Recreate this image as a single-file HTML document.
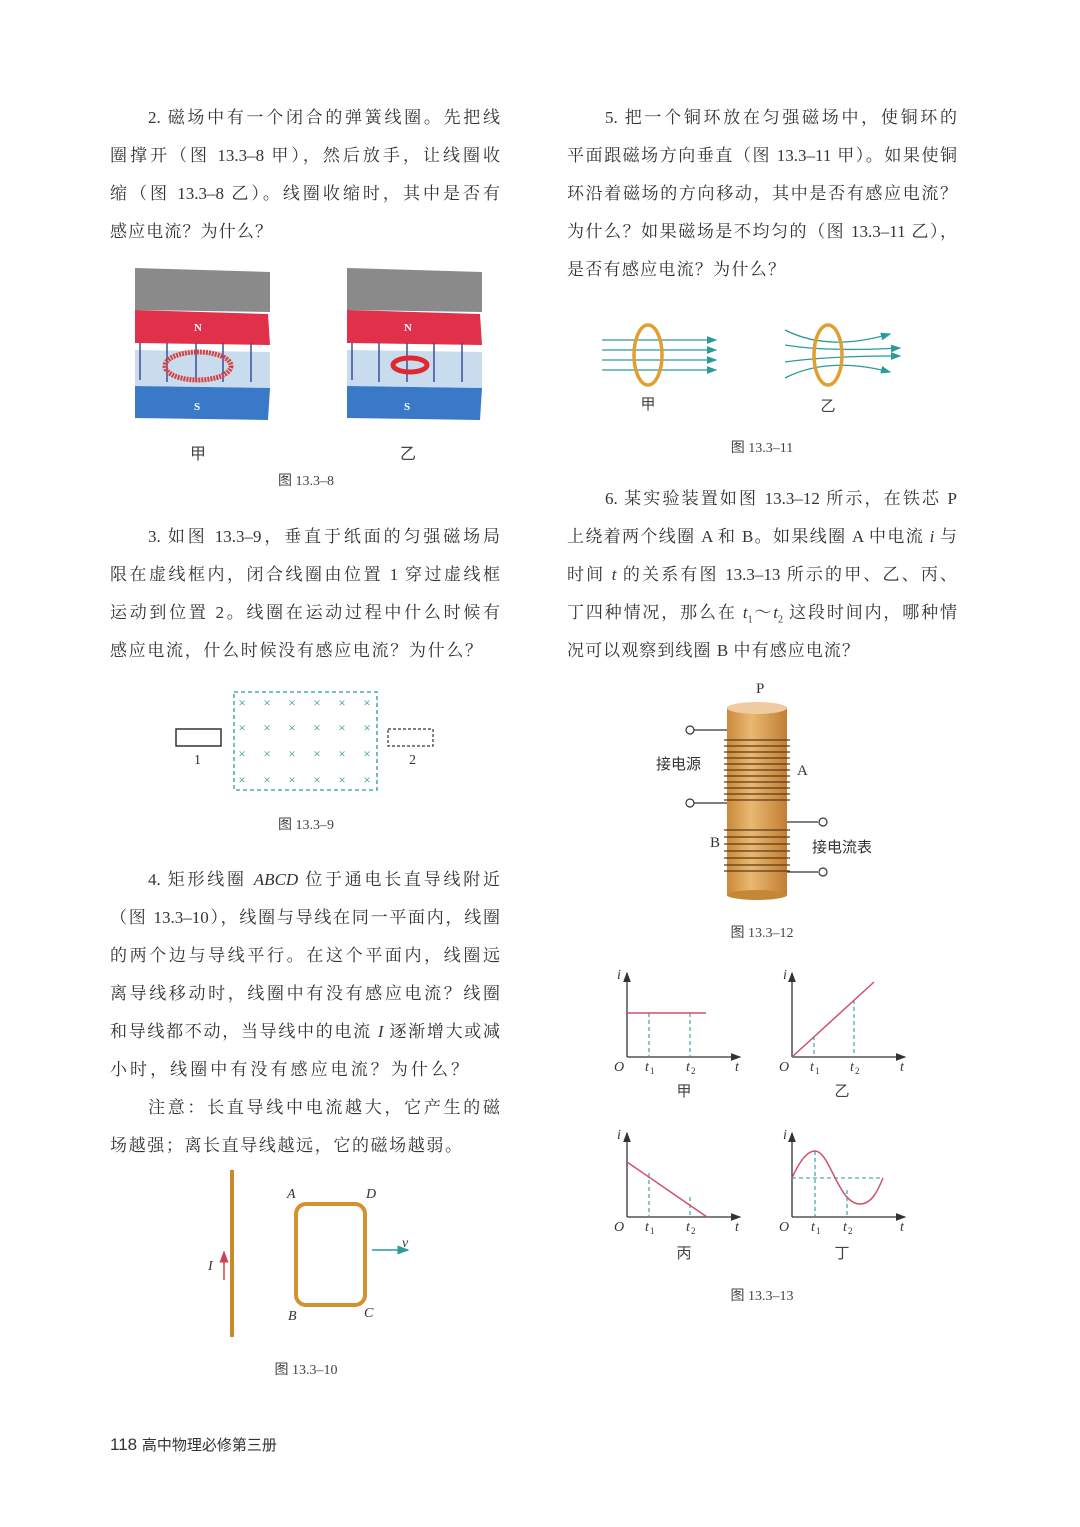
<!DOCTYPE html>
<html><head><meta charset="utf-8"><style>
body{margin:0;background:#fff;}
#p{position:relative;width:1080px;height:1527px;overflow:hidden;font-family:"Liberation Serif","Noto Serif CJK SC",serif;color:#333;}
.l{position:absolute;font-size:17px;height:24px;line-height:24px;text-align:justify;text-align-last:justify;white-space:nowrap;}
.t{position:absolute;font-size:15px;line-height:18px;white-space:nowrap;}
.c{position:absolute;font-size:14px;font-family:"Liberation Serif","Noto Sans CJK SC",serif;color:#444;transform:translateX(-50%);white-space:nowrap;}
svg{position:absolute;left:0;top:0;}
</style></head><body><div id="p">
<div class="l" style="left:148px;top:106px;width:352px">2. 磁场中有一个闭合的弹簧线圈。先把线</div>
<div class="l" style="left:110px;top:144px;width:390px">圈撑开（图 13.3–8 甲），然后放手，让线圈收</div>
<div class="l" style="left:110px;top:182px;width:390px">缩（图 13.3–8 乙）。线圈收缩时，其中是否有</div>
<div class="l" style="left:110px;top:220px;width:162px">感应电流？为什么？</div>

<div class="l" style="left:148px;top:525px;width:352px">3. 如图 13.3–9，垂直于纸面的匀强磁场局</div>
<div class="l" style="left:110px;top:563px;width:390px">限在虚线框内，闭合线圈由位置 1 穿过虚线框</div>
<div class="l" style="left:110px;top:601px;width:390px">运动到位置 2。线圈在运动过程中什么时候有</div>
<div class="l" style="left:110px;top:639px;width:372px">感应电流，什么时候没有感应电流？为什么？</div>

<div class="l" style="left:148px;top:868px;width:352px">4. 矩形线圈 <i>ABCD</i> 位于通电长直导线附近</div>
<div class="l" style="left:110px;top:906px;width:390px">（图 13.3–10），线圈与导线在同一平面内，线圈</div>
<div class="l" style="left:110px;top:944px;width:390px">的两个边与导线平行。在这个平面内，线圈远</div>
<div class="l" style="left:110px;top:982px;width:390px">离导线移动时，线圈中有没有感应电流？线圈</div>
<div class="l" style="left:110px;top:1020px;width:390px">和导线都不动，当导线中的电流 <i>I</i> 逐渐增大或减</div>
<div class="l" style="left:110px;top:1058px;width:358px">小时，线圈中有没有感应电流？为什么？</div>
<div class="l" style="left:148px;top:1096px;width:352px">注意：长直导线中电流越大，它产生的磁</div>
<div class="l" style="left:110px;top:1134px;width:352px">场越强；离长直导线越远，它的磁场越弱。</div>

<div class="l" style="left:605px;top:106px;width:352px">5. 把一个铜环放在匀强磁场中，使铜环的</div>
<div class="l" style="left:567px;top:144px;width:390px">平面跟磁场方向垂直（图 13.3–11 甲）。如果使铜</div>
<div class="l" style="left:567px;top:182px;width:390px">环沿着磁场的方向移动，其中是否有感应电流？</div>
<div class="l" style="left:567px;top:220px;width:390px">为什么？如果磁场是不均匀的（图 13.3–11 乙），</div>
<div class="l" style="left:567px;top:258px;width:218px">是否有感应电流？为什么？</div>

<div class="l" style="left:605px;top:487px;width:352px">6. 某实验装置如图 13.3–12 所示，在铁芯 P</div>
<div class="l" style="left:567px;top:525px;width:390px">上绕着两个线圈 A 和 B。如果线圈 A 中电流 <i>i</i> 与</div>
<div class="l" style="left:567px;top:563px;width:390px">时间 <i>t</i> 的关系有图 13.3–13 所示的甲、乙、丙、</div>
<div class="l" style="left:567px;top:601px;width:390px">丁四种情况，那么在 <i>t</i><sub style="font-size:10px">1</sub>～<i>t</i><sub style="font-size:10px">2</sub> 这段时间内，哪种情</div>
<div class="l" style="left:567px;top:639px;width:292px">况可以观察到线圈 B 中有感应电流？</div>

<div class="c" style="left:198px;top:440px;font-size:16px">甲</div>
<div class="c" style="left:408px;top:440px;font-size:16px">乙</div>
<div class="c" style="left:306px;top:470px">图 13.3–8</div>
<div class="c" style="left:306px;top:814px">图 13.3–9</div>
<div class="c" style="left:306px;top:1359px">图 13.3–10</div>
<div class="c" style="left:762px;top:437px">图 13.3–11</div>
<div class="c" style="left:762px;top:922px">图 13.3–12</div>
<div class="c" style="left:762px;top:1285px">图 13.3–13</div>
<div class="c" style="left:648px;top:393px;font-size:15px">甲</div>
<div class="c" style="left:828px;top:395px;font-size:15px">乙</div>
<div class="c" style="left:684px;top:1080px;font-size:15px">甲</div>
<div class="c" style="left:842px;top:1080px;font-size:15px">乙</div>
<div class="c" style="left:684px;top:1242px;font-size:15px">丙</div>
<div class="c" style="left:842px;top:1242px;font-size:15px">丁</div>
<div class="t" style="left:756px;top:680px">P</div>
<div class="t" style="left:656px;top:755px;font-family:'Noto Sans CJK SC',sans-serif">接电源</div>
<div class="t" style="left:797px;top:762px">A</div>
<div class="t" style="left:710px;top:834px">B</div>
<div class="t" style="left:812px;top:838px;font-family:'Noto Sans CJK SC',sans-serif">接电流表</div>
<div class="t" style="left:110px;top:1436px;font-size:17px;font-family:'Liberation Sans','Noto Sans CJK SC',sans-serif">118 <span style="font-size:15px">高中物理必修第三册</span></div>

<svg width="1080" height="1527" font-family="Liberation Serif" font-style="italic" font-size="14" fill="#333">
<defs>
<marker id="a" markerWidth="8" markerHeight="8" refX="7" refY="4" orient="auto"><path d="M0,1 L8,4 L0,7 Z" fill="#333"/></marker>
<marker id="b" markerWidth="8" markerHeight="8" refX="7" refY="4" orient="auto"><path d="M0,1 L8,4 L0,7 Z" fill="#2a9a9a"/></marker>
<marker id="r" markerWidth="8" markerHeight="8" refX="7" refY="4" orient="auto"><path d="M0,1 L8,4 L0,7 Z" fill="#d04050"/></marker>
<linearGradient id="cy" x1="0" x2="1"><stop offset="0" stop-color="#c98a3a"/><stop offset=".4" stop-color="#eab872"/><stop offset="1" stop-color="#c07e32"/></linearGradient>
</defs>
<!-- magnets -->
<g>
<path d="M135,268 L270,272 L270,312 L135,310 Z" fill="#8a8a8a"/>
<path d="M135,310 L268,314 L270,345 L135,343 Z" fill="#e0304a"/>
<path d="M135,350 L270,352 L270,388 L135,386 Z" fill="#c9dcee"/>
<path d="M135,386 L270,388 L268,420 L135,418 Z" fill="#3a79c8"/>
<text x="194" y="331" font-style="normal" font-weight="bold" fill="#fff" font-size="11">N</text>
<text x="194" y="410" font-style="normal" font-weight="bold" fill="#fff" font-size="11">S</text>
<g stroke="#3a4f9a" stroke-width="1.5"><line x1="140" y1="343" x2="140" y2="380"/><line x1="167" y1="343" x2="167" y2="382"/><line x1="196" y1="343" x2="196" y2="382"/><line x1="223" y1="343" x2="223" y2="382"/><line x1="251" y1="343" x2="251" y2="382"/></g>
<ellipse cx="198" cy="366" rx="33" ry="14" fill="none" stroke="#d84040" stroke-width="5" stroke-dasharray="2 1"/>
<path d="M347,268 L482,272 L482,312 L347,310 Z" fill="#8a8a8a"/>
<path d="M347,310 L480,314 L482,345 L347,343 Z" fill="#e0304a"/>
<path d="M347,350 L482,352 L482,388 L347,386 Z" fill="#c9dcee"/>
<path d="M347,386 L482,388 L480,420 L347,418 Z" fill="#3a79c8"/>
<text x="404" y="331" font-style="normal" font-weight="bold" fill="#fff" font-size="11">N</text>
<text x="404" y="410" font-style="normal" font-weight="bold" fill="#fff" font-size="11">S</text>
<g stroke="#3a4f9a" stroke-width="1.5"><line x1="352" y1="343" x2="352" y2="380"/><line x1="379" y1="343" x2="379" y2="382"/><line x1="407" y1="343" x2="407" y2="382"/><line x1="434" y1="343" x2="434" y2="382"/><line x1="462" y1="343" x2="462" y2="382"/></g>
<ellipse cx="410" cy="365" rx="17" ry="7" fill="none" stroke="#e02830" stroke-width="5"/>
</g>
<!-- fig 9 -->
<rect x="234" y="692" width="143" height="98" fill="none" stroke="#2a9a9a" stroke-width="1.3" stroke-dasharray="4 3"/>
<g font-style="normal" fill="#2a9a9a" font-size="13" text-anchor="middle">
<text x="242" y="707">×</text><text x="267" y="707">×</text><text x="292" y="707">×</text><text x="317" y="707">×</text><text x="342" y="707">×</text><text x="367" y="707">×</text>
<text x="242" y="732">×</text><text x="267" y="732">×</text><text x="292" y="732">×</text><text x="317" y="732">×</text><text x="342" y="732">×</text><text x="367" y="732">×</text>
<text x="242" y="758">×</text><text x="267" y="758">×</text><text x="292" y="758">×</text><text x="317" y="758">×</text><text x="342" y="758">×</text><text x="367" y="758">×</text>
<text x="242" y="784">×</text><text x="267" y="784">×</text><text x="292" y="784">×</text><text x="317" y="784">×</text><text x="342" y="784">×</text><text x="367" y="784">×</text>
</g>
<rect x="176" y="729" width="45" height="17" fill="none" stroke="#333" stroke-width="1.5"/>
<rect x="388" y="729" width="45" height="17" fill="none" stroke="#333" stroke-width="1.2" stroke-dasharray="3 2"/>
<text x="194" y="764" font-style="normal">1</text><text x="409" y="764" font-style="normal">2</text>
<!-- fig 10 -->
<line x1="232" y1="1170" x2="232" y2="1337" stroke="#c88a2a" stroke-width="4"/>
<rect x="296" y="1204" width="69" height="101" rx="10" fill="none" stroke="#d4912f" stroke-width="4"/>
<line x1="372" y1="1250" x2="408" y2="1250" stroke="#2a9a9a" stroke-width="1.5" marker-end="url(#b)"/>
<line x1="224" y1="1280" x2="224" y2="1252" stroke="#d04050" stroke-width="1.5" marker-end="url(#r)"/>
<text x="287" y="1198">A</text><text x="366" y="1198">D</text><text x="288" y="1320">B</text><text x="364" y="1317">C</text><text x="402" y="1247">v</text><text x="208" y="1270">I</text>
<!-- fig 11 -->
<g stroke="#2a9a9a" stroke-width="1.3" fill="none">
<line x1="602" y1="340" x2="716" y2="340" marker-end="url(#b)"/><line x1="602" y1="350" x2="716" y2="350" marker-end="url(#b)"/><line x1="602" y1="360" x2="716" y2="360" marker-end="url(#b)"/><line x1="602" y1="370" x2="716" y2="370" marker-end="url(#b)"/>
<path d="M785,330 Q828,352 890,334" marker-end="url(#b)"/><path d="M785,345 Q828,352 900,348" marker-end="url(#b)"/><path d="M785,362 Q828,356 900,356" marker-end="url(#b)"/><path d="M785,378 Q828,356 890,372" marker-end="url(#b)"/>
</g>
<ellipse cx="648" cy="355" rx="14" ry="30" fill="none" stroke="#e0a030" stroke-width="3.5"/>
<ellipse cx="828" cy="355" rx="14" ry="30" fill="none" stroke="#e0a030" stroke-width="3.5"/>
<!-- fig 12 -->
<rect x="727" y="707" width="60" height="188" fill="url(#cy)"/>
<ellipse cx="757" cy="895" rx="30" ry="5" fill="#c58636"/>
<ellipse cx="757" cy="708" rx="30" ry="6" fill="#f0caa0"/>
<g stroke="#5a3a1a" stroke-width="1.3" fill="none">
<path d="M724,740 h66 M724,746 h66 M724,752 h66 M724,758 h66 M724,764 h66 M724,770 h66 M724,776 h66 M724,782 h66 M724,788 h66 M724,794 h66 M724,800 h66"/>
<path d="M724,830 h66 M724,837 h66 M724,844 h66 M724,851 h66 M724,858 h66 M724,865 h66 M724,871 h66"/>
<path d="M694,730 h33 M694,803 h33 M787,822 h31 M787,872 h31" stroke="#333"/>
</g>
<g fill="#fff" stroke="#333" stroke-width="1.2"><circle cx="690" cy="730" r="4"/><circle cx="690" cy="803" r="4"/><circle cx="823" cy="822" r="4"/><circle cx="823" cy="872" r="4"/></g>
<!-- fig 13 -->
<g stroke="#333" stroke-width="1.3" fill="none">
<line x1="627" y1="1057" x2="627" y2="973" marker-end="url(#a)"/><line x1="627" y1="1057" x2="740" y2="1057" marker-end="url(#a)"/>
<line x1="792" y1="1057" x2="792" y2="973" marker-end="url(#a)"/><line x1="792" y1="1057" x2="905" y2="1057" marker-end="url(#a)"/>
<line x1="627" y1="1217" x2="627" y2="1133" marker-end="url(#a)"/><line x1="627" y1="1217" x2="740" y2="1217" marker-end="url(#a)"/>
<line x1="792" y1="1217" x2="792" y2="1133" marker-end="url(#a)"/><line x1="792" y1="1217" x2="905" y2="1217" marker-end="url(#a)"/>
</g>
<g stroke="#2a9a9a" stroke-width="1.1" stroke-dasharray="4 3" fill="none">
<path d="M649,1013 V1057 M690,1013 V1057 M814,1036 V1057 M854,1000 V1057 M649,1173 V1217 M690,1197 V1217 M815,1151 V1217 M847,1190 V1217 M792,1178 H883"/>
</g>
<g stroke="#d0506a" stroke-width="1.5" fill="none">
<path d="M627,1013 H706"/><path d="M792,1057 L874,982"/><path d="M627,1162 L707,1217"/>
<path d="M792,1178 C800,1160 808,1151 815,1151 C830,1151 838,1204 860,1204 C872,1204 878,1190 883,1178"/>
</g>
<g font-size="14">
<text x="617" y="979">i</text><text x="783" y="979">i</text><text x="617" y="1139">i</text><text x="783" y="1139">i</text>
<text x="614" y="1071">O</text><text x="645" y="1071">t</text><text x="686" y="1071">t</text><text x="735" y="1071">t</text>
<text x="779" y="1071">O</text><text x="810" y="1071">t</text><text x="850" y="1071">t</text><text x="900" y="1071">t</text>
<text x="614" y="1231">O</text><text x="645" y="1231">t</text><text x="686" y="1231">t</text><text x="735" y="1231">t</text>
<text x="779" y="1231">O</text><text x="811" y="1231">t</text><text x="843" y="1231">t</text><text x="900" y="1231">t</text>
</g>
<g font-size="9" font-style="normal">
<text x="650" y="1074">1</text><text x="691" y="1074">2</text><text x="815" y="1074">1</text><text x="855" y="1074">2</text>
<text x="650" y="1234">1</text><text x="691" y="1234">2</text><text x="816" y="1234">1</text><text x="848" y="1234">2</text>
</g>
</svg>
</div></body></html>
